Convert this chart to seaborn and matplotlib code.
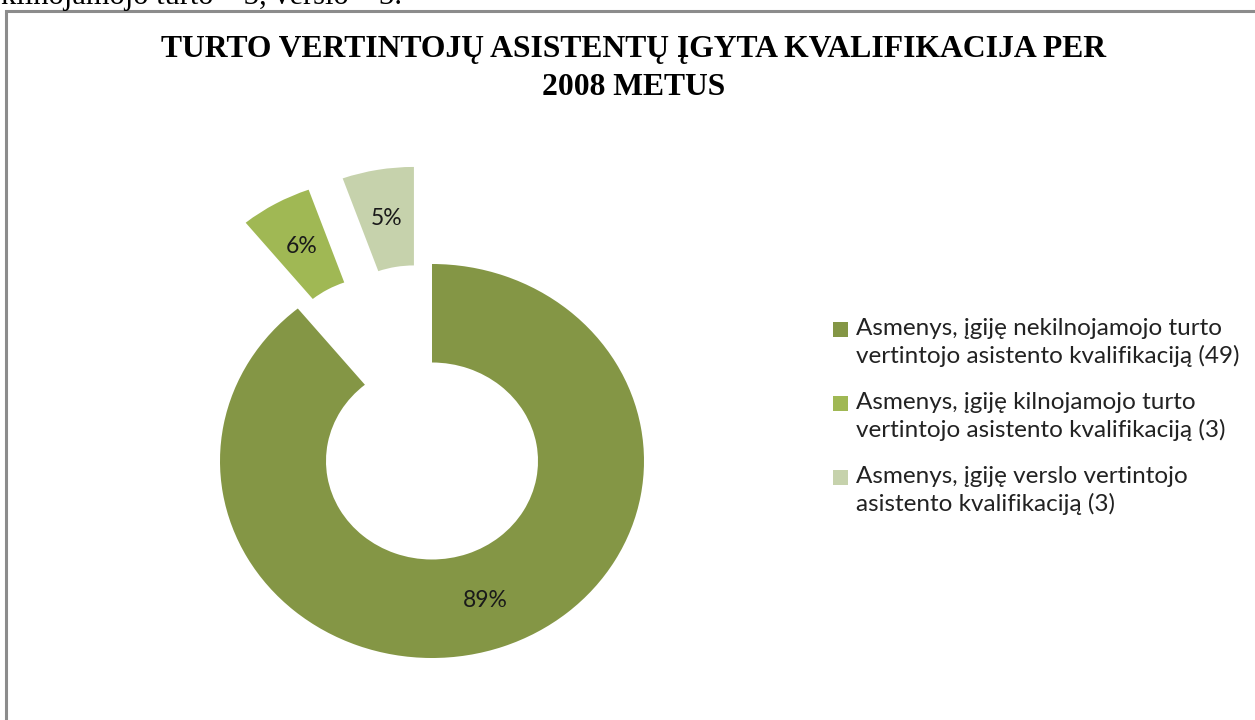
import matplotlib
matplotlib.use("Agg")
import matplotlib.pyplot as plt
import seaborn as sns
import numpy as np
from matplotlib.patches import Rectangle, Wedge
from matplotlib.legend_handler import HandlerPatch

# ---- data ----
categories = [
    "Asmenys, įgiję nekilnojamojo turto\nvertintojo asistento kvalifikaciją (49)",
    "Asmenys, įgiję kilnojamojo turto\nvertintojo asistento kvalifikaciją (3)",
    "Asmenys, įgiję verslo vertintojo\nasistento kvalifikaciją (3)",
]
counts = [49, 3, 3]
pct_labels = ["89%", "6%", "5%"]
colors = ["#849645", "#A0B854", "#C6D2AC"]
title = "TURTO VERTINTOJŲ ASISTENTŲ ĮGYTA KVALIFIKACIJA PER\n2008 METUS"
top_text = "kilnojamojo turto – 3, verslo – 3."

sns.set_theme(style="white")
plt.rcParams["font.family"] = ["Lato", "DejaVu Sans"]

W, H = 1255, 720
fig = plt.figure(figsize=(W / 100, H / 100), dpi=100)
fig.patch.set_facecolor("white")

# pixel geometry of the donut (center and radii)
cx, cy = 432, 720 - 461
rx, ry = 212, 197
xlim = (-1.6, 1.6)
ylim = (-1.2, 1.6)
left = cx + xlim[0] * rx
bottom = cy + ylim[0] * ry
ax = fig.add_axes([left / W, bottom / H, (xlim[1] - xlim[0]) * rx / W,
                   (ylim[1] - ylim[0]) * ry / H])

wedges, texts = ax.pie(
    counts,
    colors=colors,
    startangle=90,
    counterclock=False,
    explode=[0, 0.5, 0.5],
    radius=1.0,
    wedgeprops=dict(width=0.5, linewidth=0),
)
ax.set_aspect("auto")
ax.set_xlim(*xlim)
ax.set_ylim(*ylim)
ax.axis("off")

# percentage labels placed through the wedge geometry
for w, lab in zip(wedges, pct_labels):
    ang = np.deg2rad((w.theta1 + w.theta2) / 2)
    x0, y0 = w.center
    ax.text(x0 + 0.75 * np.cos(ang), y0 + 0.75 * np.sin(ang), lab,
            ha="center", va="center", fontsize=16.5, color="#1a1a1a")

# legend with squares aligned to first text line
fs = 17.5


def square_top(legend, orig_handle, xdescent, ydescent, width, height, fontsize):
    s = 0.62 * fontsize
    return Rectangle((-xdescent, -ydescent + height - s + 0.12 * fontsize), s, s)


leg = fig.legend(
    wedges, categories,
    loc="upper left",
    bbox_to_anchor=(833 / W, 1 - 318 / H),
    frameon=False,
    fontsize=fs,
    handlelength=0.62,
    handleheight=1.9,
    handletextpad=0.33,
    labelspacing=1.05,
    borderpad=0,
    borderaxespad=0,
    handler_map={Wedge: HandlerPatch(patch_func=square_top)},
)
for t in leg.get_texts():
    t.set_color("#222222")
    t.set_linespacing(1.3)

# title
fig.text(634 / W, 1 - 35 / H, title, ha="center", va="top",
         fontsize=22.75, fontweight="bold", family=["Liberation Serif"],
         linespacing=1.42, color="black")

# cut-off running text above the chart frame
fig.text(1 / W, 1 - 4 / H, top_text, ha="left", va="baseline",
         fontsize=22, family=["Liberation Serif"], color="black")

# chart frame
fig.add_artist(Rectangle((6 / W, -0.1), 1.2, 1 - 11 / H + 0.1,
                         transform=fig.transFigure, fill=False,
                         edgecolor="#8c8c8c", linewidth=2.2))

fig.savefig("out.png", dpi=100, facecolor="white")
